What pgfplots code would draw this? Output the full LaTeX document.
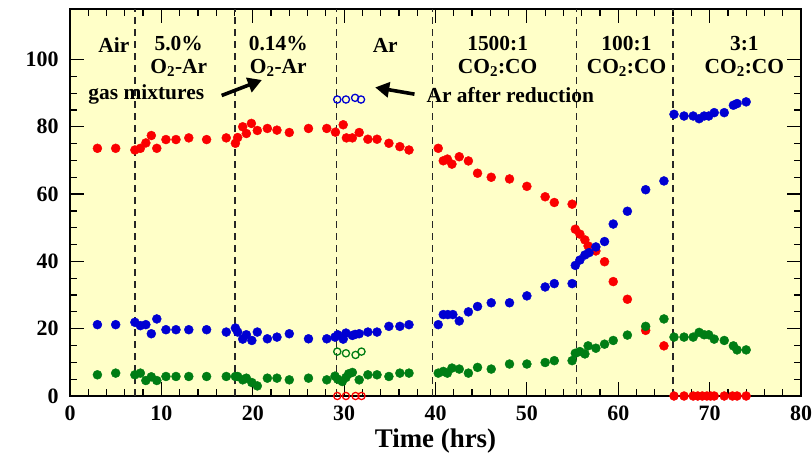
\documentclass[border=0pt]{standalone}
\usepackage{fontspec}
\setmainfont{Liberation Serif}
\usepackage{pgfplots}
\pgfplotsset{compat=1.18}
\usetikzlibrary{arrows.meta}

\definecolor{bgyellow}{RGB}{255,255,200}
\definecolor{dred}{RGB}{250,0,0}
\definecolor{dblue}{RGB}{0,0,210}
\definecolor{dgreen}{RGB}{0,125,20}

\begin{document}
\begin{tikzpicture}
\begin{axis}[
  at={(0,0)}, anchor=south west,
  width=731bp, height=387bp, scale only axis,
  xmin=0, xmax=80, ymin=0, ymax=115,
  xtick={0,10,...,80}, minor x tick num=4,
  ytick={0,20,...,100}, minor y tick num=3,
  tick align=inside,
  major tick length=14bp, minor tick length=7bp,
  axis line style={line width=1.6bp, black},
  every tick/.style={line width=1.2bp, black},
  axis background/.style={fill=bgyellow},
  clip=false,
  /pgf/number format/assume math mode=true,
  tick label style={font=\fontsize{22}{24}\selectfont\bfseries},
  yticklabel style={xshift=-8bp},
  xticklabel style={yshift=-6bp},
  xlabel={Time (hrs)},
  xlabel style={font=\fontsize{27}{30}\selectfont\bfseries, yshift=-2bp},
  every axis plot/.append style={only marks},
]

% gas-switch boundaries
\foreach \t in {7.1,18.05,29.2,39.7,55.4,66.0}{
  \edef\temp{\noexpand\draw[black!85, line width=1.3bp, dash pattern=on 7bp off 5bp]
    (axis cs:\t,0) -- (axis cs:\t,115);}
  \temp
}

% red series
\addplot[mark=*, mark size=4.5bp, dred] coordinates {
(3.0,73.6) (5.0,73.6) (7.1,73.1) (7.7,73.6) (8.3,75.2) (8.9,77.4) (9.5,73.6)
(10.5,76.2) (11.6,76.2) (13.0,76.7) (14.95,76.2) (17.1,76.7) (18.1,75.1)
(18.35,76.8) (18.9,80.0) (19.3,78.0) (19.85,81.0) (20.5,78.9) (21.6,79.5)
(22.65,79.0) (24.0,78.3) (26.1,79.5) (28.1,79.5) (29.05,78.4) (29.9,80.6)
(30.25,76.7) (30.9,76.7) (31.65,78.3) (32.6,76.3) (33.6,76.3) (34.9,75.1)
(36.1,74.1) (37.1,73.1)
(40.3,73.6) (40.85,69.9) (41.3,70.4) (41.8,68.9) (42.6,71.1) (43.6,69.85)
(44.6,66.2) (46.1,65.0) (48.1,64.5) (50.0,62.3) (52.0,59.2) (53.0,57.5)
(54.95,57.0) (55.3,49.55) (55.8,48.1) (56.35,46.4) (56.7,44.6) (57.55,43.1)
(58.5,39.9) (59.45,34.0) (61.0,28.75) (63.0,19.5) (65.0,14.9)
(66.1,0) (67.2,0) (68.2,0) (68.7,0) (69.2,0) (69.7,0) (70.1,0) (70.5,0)
(71.6,0) (72.5,0) (73.0,0) (74.0,0)
};

% green series
\addplot[mark=*, mark size=4.5bp, dgreen] coordinates {
(3.0,6.3) (5.0,6.8) (7.1,6.3) (7.7,6.8) (8.3,4.6) (8.9,5.7) (9.5,4.6)
(10.5,5.8) (11.6,5.8) (13.0,5.8) (14.95,5.8) (17.1,5.8) (18.1,5.8)
(18.35,5.8) (18.9,4.8) (19.3,5.3) (19.9,4.0) (20.5,3.0) (21.6,5.3)
(22.65,5.3) (24.0,4.8) (26.1,5.3) (28.1,4.8) (29.0,5.9) (29.3,5.0)
(29.8,4.3) (30.2,5.5) (30.5,6.6) (30.9,7.0) (31.65,4.8) (32.6,6.3)
(33.6,6.3) (34.9,5.8) (36.1,6.8) (37.1,6.8)
(40.3,6.8) (40.85,7.3) (41.3,6.8) (41.8,8.3) (42.6,8.0) (43.6,6.8)
(44.6,8.5) (46.1,8.0) (48.1,9.5) (50.0,9.5) (52.0,9.95) (53.0,10.5)
(54.95,10.5) (55.3,12.7) (55.8,13.2) (56.35,12.5) (56.7,14.9) (57.55,14.2)
(58.5,15.4) (59.45,16.5) (61.0,18.1) (63.0,20.7) (65.0,22.9)
(66.1,17.5) (67.2,17.5) (68.2,17.5) (68.85,18.9) (69.4,18.2) (69.9,18.2)
(70.5,16.9) (71.6,16.5) (72.6,14.9) (73.0,13.7) (74.0,13.7)
};

% blue series
\addplot[mark=*, mark size=4.5bp, dblue] coordinates {
(3.0,21.2) (5.0,21.2) (7.1,21.9) (7.7,20.9) (8.3,21.2) (8.9,18.5) (9.5,22.9)
(10.5,19.7) (11.6,19.7) (13.0,19.7) (14.95,19.7) (17.1,19.0) (18.1,20.2)
(18.35,19.0) (18.9,16.9) (19.3,18.2) (19.9,16.5) (20.5,19.0) (21.6,17.0)
(22.65,17.5) (24.0,18.5) (26.1,17.0) (28.1,17.0) (29.0,17.5) (29.3,18.2)
(29.9,16.9) (30.2,18.7) (30.9,18.0) (31.2,18.3) (31.65,18.5) (32.6,19.0)
(33.6,19.0) (34.9,20.7) (36.1,20.7) (37.1,21.2)
(40.3,21.2) (40.85,24.2) (41.35,24.2) (41.9,24.2) (42.6,22.3) (43.6,25.0)
(44.6,26.6) (46.1,27.7) (48.1,27.7) (50.0,29.75) (52.0,32.4) (53.0,33.4)
(54.95,33.4) (55.3,38.8) (55.8,40.4) (56.35,41.9) (56.8,42.6) (57.55,44.3)
(58.5,45.9) (59.45,51.1) (61.0,54.9) (63.0,61.3) (65.0,63.9)
(66.1,83.7) (67.2,83.2) (68.2,83.2) (68.85,82.4) (69.4,83.2) (69.9,83.2)
(70.5,84.2) (71.6,84.2) (72.6,86.4) (73.0,86.9) (74.0,87.4)
};

% Ar after reduction (open symbols)
\addplot[mark=o, mark size=3.6bp, line width=1.3bp, dblue, mark options={fill=white}] coordinates {
(29.25,88.1) (30.2,88.1) (31.2,88.6) (31.85,88.1)
};
\addplot[mark=o, mark size=3.6bp, line width=1.3bp, dgreen, mark options={fill=white}] coordinates {
(29.25,13.2) (30.2,12.7) (31.25,12.2) (31.9,13.2)
};
\addplot[mark=o, mark size=3.6bp, line width=1.3bp, dred, mark options={fill=white}] coordinates {
(29.25,0) (30.2,0) (31.25,0) (31.9,0)
};

% segment labels
\tikzset{seg/.style={font=\fontsize{21.5}{22}\selectfont\bfseries, align=center, inner sep=0pt}}
\node[seg] at (axis cs:4.8,104.3) {Air};
\node[seg, anchor=center] at (axis cs:11.9,101) {5.0\%\\[1bp]O\textsubscript{2}-Ar};
\node[seg, anchor=center] at (axis cs:22.8,101) {0.14\%\\[1bp]O\textsubscript{2}-Ar};
\node[seg] at (axis cs:34.5,104.3) {Ar};
\node[seg, anchor=center] at (axis cs:46.8,101) {1500:1\\[1bp]CO\textsubscript{2}:CO};
\node[seg, anchor=center] at (axis cs:60.9,101) {100:1\\[1bp]CO\textsubscript{2}:CO};
\node[seg, anchor=center] at (axis cs:73.8,101) {3:1\\[1bp]CO\textsubscript{2}:CO};
\node[seg, anchor=west] at (axis cs:2.0,89.5) {gas mixtures};
\node[seg, anchor=west] at (axis cs:39.0,89.5) {Ar after reduction};
\draw[-{Triangle[length=14bp,width=15bp]}, line width=3.6bp] (axis cs:16.6,89.3) -- (axis cs:21.0,93.9);
\draw[-{Triangle[length=14bp,width=15bp]}, line width=3.6bp] (axis cs:37.7,89.7) -- (axis cs:33.4,91.7);
\end{axis}
\pgfresetboundingbox
\path[use as bounding box] (-70bp,-60bp) rectangle (742bp,396bp);
\end{tikzpicture}
\end{document}
